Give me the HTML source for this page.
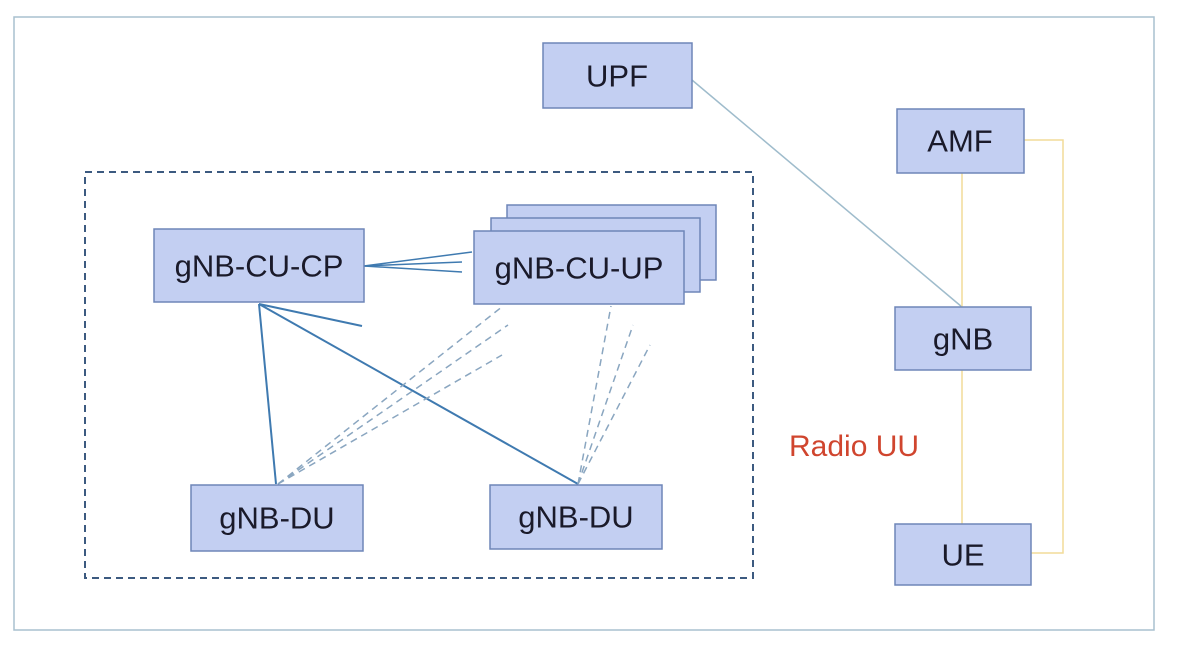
<!DOCTYPE html>
<html><head><style>
body{margin:0;background:#fff;}
svg{display:block;font-family:"Liberation Sans",sans-serif;}
.b{fill:#c3cff2;stroke:#6e86b8;stroke-width:1.5;}
.t{font-size:31px;fill:#1a1a2a;text-anchor:middle;dominant-baseline:central;}
</style></head><body>
<svg width="1181" height="647" viewBox="0 0 1181 647">
<rect x="14" y="17" width="1140" height="613" fill="none" stroke="#a9c0cf" stroke-width="1.5"/>
<rect x="85" y="172" width="668" height="406" fill="none" stroke="#3c5a80" stroke-width="2" stroke-dasharray="7,5"/>
<g stroke="#3f7ab0" stroke-width="2" fill="none">
<line x1="364" y1="266" x2="472" y2="252" stroke-width="1.5"/>
<line x1="364" y1="266" x2="462" y2="262" stroke-width="1.5"/>
<line x1="364" y1="266" x2="462" y2="272" stroke-width="1.5"/>
<line x1="259" y1="304" x2="276" y2="484"/>
<line x1="259" y1="304" x2="578" y2="484"/>
<line x1="259" y1="304" x2="362" y2="326"/>
</g>
<g stroke="#8aa6c0" stroke-width="1.5" fill="none" stroke-dasharray="7,5">
<line x1="278" y1="484" x2="503" y2="306"/>
<line x1="278" y1="484" x2="508" y2="325"/>
<line x1="278" y1="484" x2="502" y2="355"/>
<line x1="578" y1="484" x2="611" y2="306"/>
<line x1="578" y1="484" x2="633" y2="325"/>
<line x1="578" y1="484" x2="650" y2="345"/>
</g>
<line x1="692" y1="80" x2="962" y2="307" stroke="#9fbccc" stroke-width="1.5"/>
<g stroke="#f2dc98" stroke-width="1.5" fill="none">
<line x1="962" y1="173" x2="962" y2="307"/>
<line x1="962" y1="370" x2="962" y2="524"/>
<polyline points="1024,140 1063,140 1063,553 1031,553"/>
</g>
<rect class="b" x="543" y="43" width="149" height="65"/><text class="t" x="617" y="76">UPF</text>
<rect class="b" x="897" y="109" width="127" height="64"/><text class="t" x="960" y="141">AMF</text>
<rect class="b" x="895" y="307" width="136" height="63"/><text class="t" x="963" y="339">gNB</text>
<rect class="b" x="895" y="524" width="136" height="61"/><text class="t" x="963" y="555">UE</text>
<rect class="b" x="154" y="229" width="210" height="73"/><text class="t" x="259" y="266">gNB-CU-CP</text>
<rect class="b" x="507" y="205" width="209" height="75"/>
<rect class="b" x="491" y="218" width="209" height="74"/>
<rect class="b" x="474" y="231" width="210" height="73"/><text class="t" x="579" y="268">gNB-CU-UP</text>
<rect class="b" x="191" y="485" width="172" height="66"/><text class="t" x="277" y="518">gNB-DU</text>
<rect class="b" x="490" y="485" width="172" height="64"/><text class="t" x="576" y="517">gNB-DU</text>
<text x="789" y="456" font-size="30" fill="#d0452e">Radio UU</text>
</svg>
</body></html>
